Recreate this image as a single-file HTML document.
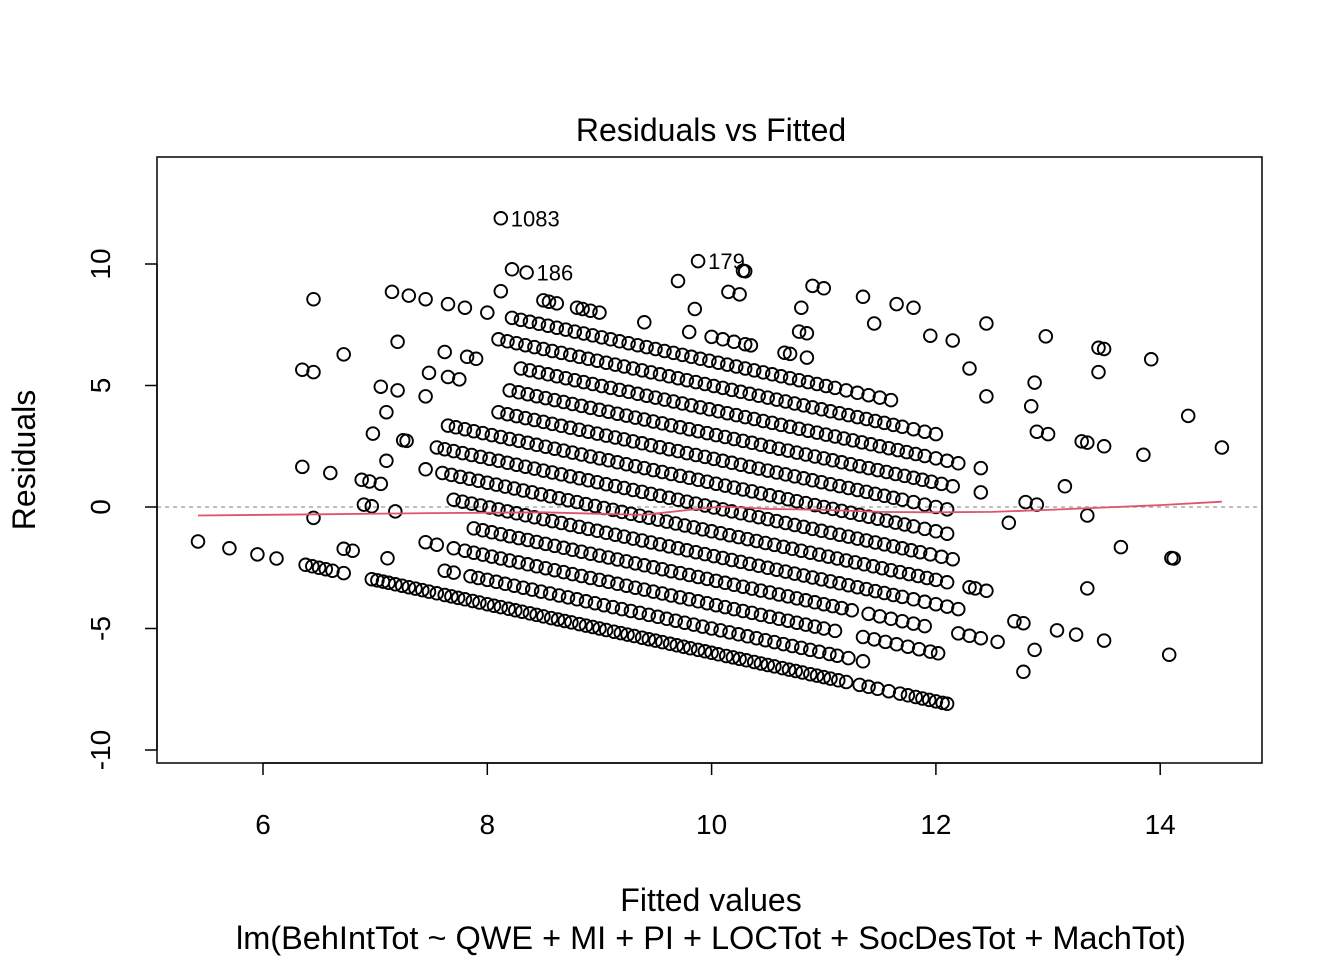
<!DOCTYPE html>
<html><head><meta charset="utf-8"><style>
html,body{margin:0;padding:0;background:#fff}
svg{display:block;font-family:"Liberation Sans",Arial,sans-serif}
</style></head><body>
<svg id="chart" width="1344" height="960" viewBox="0 0 1344 960">
<rect x="0" y="0" width="1344" height="960" fill="#fff"/>
<text x="711" y="141" font-size="32" text-anchor="middle">Residuals vs Fitted</text>
<text x="711" y="911" font-size="32" text-anchor="middle">Fitted values</text>
<text x="711" y="949" font-size="32" text-anchor="middle" textLength="950" lengthAdjust="spacingAndGlyphs">lm(BehIntTot ~ QWE + MI + PI + LOCTot + SocDesTot + MachTot)</text>
<text transform="translate(35,460) rotate(-90)" font-size="32" text-anchor="middle">Residuals</text>
<g id="marks"></g>
<rect x="157" y="157" width="1105" height="606" fill="none" stroke="#000" stroke-width="1.5"/>
</svg>
<script>
// observed response values (integer) and fitted values for each band
const responseLevels = [4,5,6,7,8,9,10,11,12,13,14,15,16,17,18,19,20];
const fittedByLevel = [
"5.42 5.70 5.95 6.12 6.38 6.44 6.50 6.56 6.62 6.72 6.97 7.02 7.07 7.12 7.18 7.24 7.30 7.36 7.42 7.48 7.55 7.62 7.68 7.74 7.80 7.87 7.93 8.00 8.06 8.12 8.19 8.25 8.31 8.38 8.44 8.50 8.57 8.63 8.69 8.75 8.82 8.88 8.94 9.00 9.06 9.13 9.19 9.25 9.31 9.38 9.44 9.50 9.56 9.63 9.69 9.75 9.81 9.88 9.94 10.00 10.06 10.13 10.19 10.25 10.31 10.38 10.44 10.50 10.56 10.63 10.69 10.75 10.81 10.88 10.94 11.00 11.06 11.13 11.20 11.32 11.40 11.48 11.58 11.68 11.75 11.82 11.88 11.94 12.00 12.06 12.10",
"6.72 6.80 7.11 7.62 7.70 7.85 7.92 8.00 8.08 8.16 8.24 8.32 8.40 8.48 8.56 8.64 8.72 8.80 8.88 8.96 9.04 9.12 9.20 9.28 9.36 9.44 9.52 9.60 9.68 9.76 9.84 9.92 10.00 10.08 10.16 10.24 10.32 10.40 10.48 10.56 10.64 10.72 10.80 10.88 10.96 11.05 11.12 11.22 11.35",
"6.45 7.45 7.55 7.70 7.80 7.88 7.96 8.04 8.12 8.20 8.28 8.36 8.44 8.52 8.60 8.68 8.76 8.84 8.92 9.00 9.08 9.16 9.24 9.32 9.40 9.48 9.56 9.64 9.72 9.80 9.88 9.96 10.04 10.12 10.20 10.28 10.36 10.44 10.52 10.60 10.68 10.76 10.84 10.92 11.00 11.10 11.35 11.45 11.55 11.65 11.75 11.85 11.95 12.02 12.78",
"6.90 6.97 7.18 7.88 7.96 8.04 8.12 8.20 8.28 8.36 8.44 8.52 8.60 8.68 8.76 8.84 8.92 9.00 9.08 9.16 9.24 9.32 9.40 9.48 9.56 9.64 9.72 9.80 9.88 9.96 10.04 10.12 10.20 10.28 10.36 10.44 10.52 10.60 10.68 10.76 10.84 10.92 11.00 11.08 11.16 11.25 11.40 11.50 11.60 11.70 11.80 11.90 12.20 12.30 12.40 12.55 12.88",
"6.35 6.60 6.88 6.95 7.05 7.70 7.78 7.86 7.94 8.02 8.10 8.18 8.26 8.34 8.42 8.50 8.58 8.66 8.74 8.82 8.90 8.98 9.06 9.14 9.22 9.30 9.38 9.46 9.54 9.62 9.70 9.78 9.86 9.94 10.02 10.10 10.18 10.26 10.34 10.42 10.50 10.58 10.66 10.74 10.82 10.90 10.98 11.06 11.14 11.22 11.30 11.38 11.46 11.54 11.62 11.70 11.80 11.90 12.00 12.10 12.20 12.70 12.78 13.08 13.25 13.50 14.08",
"7.10 7.45 7.60 7.68 7.76 7.84 7.92 8.00 8.08 8.16 8.24 8.32 8.40 8.48 8.56 8.64 8.72 8.80 8.88 8.96 9.04 9.12 9.20 9.28 9.36 9.44 9.52 9.60 9.68 9.76 9.84 9.92 10.00 10.08 10.16 10.24 10.32 10.40 10.48 10.56 10.64 10.72 10.80 10.88 10.96 11.04 11.12 11.20 11.28 11.36 11.44 11.52 11.60 11.68 11.76 11.84 11.92 12.00 12.10 12.30 12.35 12.45",
"6.98 7.25 7.28 7.55 7.62 7.70 7.78 7.86 7.94 8.02 8.10 8.18 8.26 8.34 8.42 8.50 8.58 8.66 8.74 8.82 8.90 8.98 9.06 9.14 9.22 9.30 9.38 9.46 9.54 9.62 9.70 9.78 9.86 9.94 10.02 10.10 10.18 10.26 10.34 10.42 10.50 10.58 10.66 10.74 10.82 10.90 10.98 11.06 11.14 11.22 11.30 11.38 11.46 11.54 11.62 11.70 11.78 11.86 11.95 12.05 12.15 13.35",
"7.10 7.65 7.72 7.80 7.88 7.96 8.04 8.12 8.20 8.28 8.36 8.44 8.52 8.60 8.68 8.76 8.84 8.92 9.00 9.08 9.16 9.24 9.32 9.40 9.48 9.56 9.64 9.72 9.80 9.88 9.96 10.04 10.12 10.20 10.28 10.36 10.44 10.52 10.60 10.68 10.76 10.84 10.92 11.00 11.08 11.16 11.24 11.32 11.40 11.48 11.56 11.64 11.72 11.80 11.90 12.00 12.10",
"6.35 6.45 7.05 7.20 7.45 8.10 8.18 8.26 8.34 8.42 8.50 8.58 8.66 8.74 8.82 8.90 8.98 9.06 9.14 9.22 9.30 9.38 9.46 9.54 9.62 9.70 9.78 9.86 9.94 10.02 10.10 10.18 10.26 10.34 10.42 10.50 10.58 10.66 10.74 10.82 10.90 10.98 11.06 11.14 11.22 11.30 11.38 11.46 11.54 11.62 11.70 11.80 11.90 12.00 12.10 12.65 13.65 14.10 14.12",
"6.72 7.48 7.65 7.75 8.20 8.28 8.36 8.44 8.52 8.60 8.68 8.76 8.84 8.92 9.00 9.08 9.16 9.24 9.32 9.40 9.48 9.56 9.64 9.72 9.80 9.88 9.96 10.04 10.12 10.20 10.28 10.36 10.44 10.52 10.60 10.68 10.76 10.84 10.92 11.00 11.08 11.16 11.24 11.32 11.40 11.48 11.56 11.64 11.72 11.80 11.88 11.96 12.05 12.15 12.40 12.80 12.90 13.35",
"7.20 7.62 7.82 7.90 8.30 8.38 8.46 8.54 8.62 8.70 8.78 8.86 8.94 9.02 9.10 9.18 9.26 9.34 9.42 9.50 9.58 9.66 9.74 9.82 9.90 9.98 10.06 10.14 10.22 10.30 10.38 10.46 10.54 10.62 10.70 10.78 10.86 10.94 11.02 11.10 11.18 11.26 11.34 11.42 11.50 11.58 11.66 11.74 11.82 11.90 12.00 12.10 12.20 12.40 13.15",
"6.45 8.10 8.18 8.26 8.34 8.42 8.50 8.58 8.66 8.74 8.82 8.90 8.98 9.06 9.14 9.22 9.30 9.38 9.46 9.54 9.62 9.70 9.78 9.86 9.94 10.02 10.10 10.18 10.26 10.34 10.42 10.50 10.58 10.66 10.74 10.82 10.90 10.98 11.06 11.14 11.22 11.30 11.38 11.46 11.54 11.62 11.70 11.80 11.90 12.00",
"7.15 7.30 7.45 7.65 7.80 8.00 8.22 8.30 8.38 8.46 8.54 8.62 8.70 8.78 8.86 8.94 9.02 9.10 9.18 9.26 9.34 9.42 9.50 9.58 9.66 9.74 9.82 9.90 9.98 10.06 10.14 10.22 10.30 10.38 10.46 10.54 10.62 10.70 10.78 10.86 10.94 11.02 11.10 11.20 11.30 11.40 11.50 11.60 12.90 13.00 13.30 13.35 13.50 13.85",
"8.12 8.50 8.55 8.62 8.80 8.85 8.92 9.00 9.40 9.80 10.00 10.10 10.20 10.30 10.35 10.65 10.70 10.85 12.45 12.85 14.55",
"8.22 8.35 9.85 10.78 10.85 12.30 12.88 14.25",
"9.70 10.15 10.25 10.80 11.45 11.95 12.15 13.45",
"8.12 9.88 10.28 10.30 10.90 11.00 11.35 11.65 11.80 12.45 12.98 13.45 13.50 13.92"
];
const xTicks = [6,8,10,12,14];
const yTicks = [-10,-5,0,5,10];
const smoothX = [5.42,6.5,7.5,8.5,9.0,9.4,9.8,10.1,10.5,11.0,11.5,12.0,12.5,13.0,13.5,14.0,14.55];
const smoothY = [-0.35,-0.3,-0.25,-0.22,-0.28,-0.32,-0.12,0.02,-0.08,-0.12,-0.2,-0.22,-0.2,-0.12,-0.02,0.08,0.22];
const labelIds = ["1083","186","179"];
const labelFitted = [8.12,8.35,9.88];
const labelResid = [11.88,9.65,10.12];

const sx = v => 263 + (v - 6) * 112.15;
const sy = v => 507 - v * 24.3;
const NS = "http://www.w3.org/2000/svg";
const svg = document.getElementById('chart');
const g = document.getElementById('marks');
function mk(tag, attrs, parent){
  const e = document.createElementNS(NS, tag);
  for (const k in attrs) e.setAttribute(k, attrs[k]);
  (parent||g).appendChild(e); return e;
}
const zl = mk('line',{x1:157,x2:1262,y1:sy(0),y2:sy(0),stroke:'#aaa','stroke-width':1.5,'stroke-dasharray':'4,4'});


responseLevels.forEach((lvl, i) => {
  fittedByLevel[i].split(' ').map(Number).forEach(f => {
    const c = mk('circle',{cx:sx(f).toFixed(1),cy:sy(lvl - f).toFixed(1),r:6.3,fill:'none',stroke:'#000','stroke-width':1.9});
    
    
  });
});
const pts = smoothX.map((x,i)=>sx(x).toFixed(1)+','+sy(smoothY[i]).toFixed(1)).join(' ');
const sm = mk('polyline',{points:pts,fill:'none',stroke:'#DF536B','stroke-width':1.8});


labelIds.forEach((id,i)=>{
  const t = mk('text',{x:sx(labelFitted[i])+10,y:sy(labelResid[i])+8,'font-size':22});
  t.textContent = id;
  
  
});
const ax = mk('line',{x1:sx(6),x2:sx(14),y1:763,y2:763,stroke:'#000','stroke-width':1.5}, svg);


xTicks.forEach(v=>{
  const tk = mk('line',{x1:sx(v),x2:sx(v),y1:763,y2:775,stroke:'#000','stroke-width':1.5}, svg);
  
  
  const t = mk('text',{x:sx(v),y:834,'font-size':28,'text-anchor':'middle'}, svg);
  t.textContent = v;
  
  
});
const ay = mk('line',{x1:157,x2:157,y1:sy(-10),y2:sy(10),stroke:'#000','stroke-width':1.5}, svg);


yTicks.forEach(v=>{
  const tk = mk('line',{x1:145,x2:157,y1:sy(v),y2:sy(v),stroke:'#000','stroke-width':1.5}, svg);
  
  
  const t = mk('text',{transform:'translate(110,'+sy(v)+') rotate(-90)','font-size':28,'text-anchor':'middle'}, svg);
  t.textContent = v;
  
  
});
</script>
</body></html>
